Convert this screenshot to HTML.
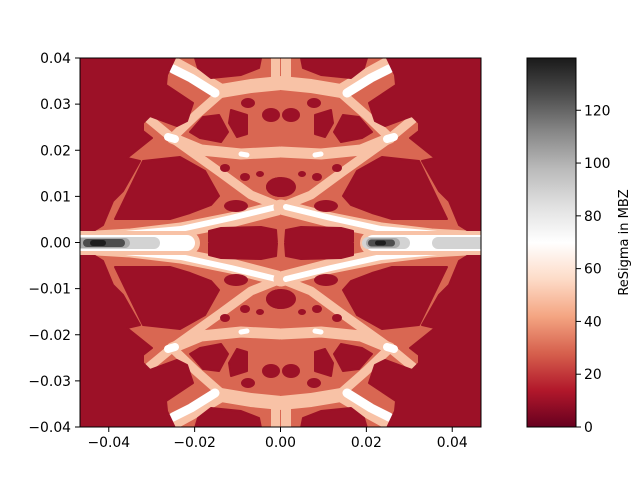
<!DOCTYPE html>
<html><head><meta charset="utf-8"><style>
html,body{margin:0;padding:0;background:#fff}
svg{display:block;font-family:"DejaVu Sans","Liberation Sans",sans-serif}
</style></head><body>
<svg id="chart" width="640" height="480" viewBox="0 0 640 480" xmlns="http://www.w3.org/2000/svg">
<defs>
<clipPath id="plotclip"><rect x="80" y="58" width="401" height="369"/></clipPath>
<linearGradient id="cbgrad" x1="0" y1="1" x2="0" y2="0">
<stop offset="0" stop-color="#67001f"/><stop offset="0.1" stop-color="#b2182b"/><stop offset="0.2" stop-color="#d6604d"/><stop offset="0.3" stop-color="#f4a582"/><stop offset="0.4" stop-color="#fddbc7"/><stop offset="0.5" stop-color="#ffffff"/><stop offset="0.6" stop-color="#e0e0e0"/><stop offset="0.7" stop-color="#bababa"/><stop offset="0.8" stop-color="#878787"/><stop offset="0.9" stop-color="#4d4d4d"/><stop offset="1" stop-color="#1a1a1a"/>
</linearGradient>
</defs>
<g id="plot" clip-path="url(#plotclip)"></g>
<rect x="80" y="58" width="401" height="369" fill="none" stroke="#000" stroke-width="1"/>
<g id="axes"></g>
<rect x="527" y="58" width="49" height="369" fill="url(#cbgrad)" stroke="#000" stroke-width="1"/>
<text x="0" y="0" font-size="13" transform="translate(628,242.5) rotate(-90)" text-anchor="middle">ReSigma in MBZ</text>
</svg>
<script>
const xTicks=[-0.04,-0.02,0.00,0.02,0.04];
const yTicks=[0.04,0.03,0.02,0.01,0.00,-0.01,-0.02,-0.03,-0.04];
const cbTicks=[0,20,40,60,80,100,120];
const xDomain=[-0.0467,0.0467], yDomain=[-0.04,0.04], cbDomain=[0,139.8];
const outerLow=[[-201,-185],[-106,-185],[-114,-168],[-115,-158],[-88,-140],[-94,-122],[-104,-117],[-131,-127],[-138,-120],[-138,-112],[-129,-105],[-139,-97],[-154,-85],[-141,-82],[-158,-52],[-168,-42],[-178,-18],[-194,-8],[-201,-7]];
const topLow=[[-86,-185],[-20,-185],[-22,-175],[-40,-168],[-70,-165],[-83,-175]];
const holeA=[[-166,-24],[-138,-82],[-101,-86],[-76,-72],[-62,-47],[-70,-38],[-91,-30],[-111,-24]];
const holeB=[[-91,-111],[-78,-126],[-62,-128],[-53,-111],[-60,-101],[-81,-105]];
const holeC=[[-50,-133],[-34,-128],[-34,-109],[-44,-106],[-52,-120]];
const holeCentre=[[-72,-12],[-60,-15],[-20,-16],[-5,-13],[-4,0],[-72,0]];
const smallHoles=[[-33,-140,7,5],[-10,-128,9,7],[-56,-75,5,4],[-36,-66,5,4],[-21,-69,4,3],[-45,-37,12,6],[0,-56,15,10]];
const peachLines=[
 [[-112,-182],[-90,-170],[-60,-152],[-30,-157],[0,-160]],
 [[-60,-150],[-85,-128],[-109,-105]],
 [[-132,-124],[-109,-105],[-60,-70],[-30,-48],[0,-36]],
 [[-109,-105],[-80,-93],[-40,-89],[0,-91]],
 [[-201,-4],[-150,-7],[-100,-13],[-50,-23],[0,-36]],
 [[-5,-185],[-5,-160]]];
const peachW=[14,9,9,11,15,10];
const whiteLines=[[[-108,-174],[-90,-165],[-66,-150]],[[-190,-6],[-100,-14],[-50,-25],[-5,-36]],[[-113,-106],[-106,-104]],[[-40,-89],[-34,-88]]];
const whiteW=[9,6,8,5];
const C={dark:"#9c1127",salmon:"#d96752",peach:"#f8c2a6",white:"#ffffff",lg:"#d3d3d3",g:"#a9a9a9",dg:"#4d4d4d",dd:"#1e1e1e"};
const NS="http://www.w3.org/2000/svg";
const cx=281,cy=243;
function sx(v){return 80+(v-xDomain[0])/(xDomain[1]-xDomain[0])*401;}
function sy(v){return 427-(v-yDomain[0])/(yDomain[1]-yDomain[0])*369;}
function sc(v){return 427-(v-cbDomain[0])/(cbDomain[1]-cbDomain[0])*369;}
function mk(tag,attrs,parent){const e=document.createElementNS(NS,tag);for(const k in attrs)e.setAttribute(k,attrs[k]);parent.appendChild(e);return e;}
const plot=document.getElementById('plot');
const bg=mk('rect',{x:80,y:58,width:401,height:369,fill:C.dark},plot);


const pts=a=>a.map(p=>p[0]+','+p[1]).join(' ');
[[1,1],[-1,1],[1,-1],[-1,-1]].forEach(([mx,my])=>{
 const g=mk('g',{transform:`translate(${cx},${cy}) scale(${mx},${my})`},plot);
 
 
 const base=mk('rect',{x:-202,y:-186,width:203,height:187,fill:C.salmon},g);
 
 
 peachLines.forEach((l,i)=>{const e=mk('polyline',{points:pts(l),fill:'none',stroke:C.peach,'stroke-width':peachW[i],'stroke-linejoin':'round','stroke-linecap':'round'},g);
  
  });
 whiteLines.forEach((l,i)=>{const e=mk('polyline',{points:pts(l),fill:'none',stroke:C.white,'stroke-width':whiteW[i],'stroke-linejoin':'round','stroke-linecap':'round'},g);
  
  });
 [holeA,holeB,holeC,holeCentre,topLow,outerLow].forEach(h=>{const e=mk('polygon',{points:pts(h),fill:C.dark,stroke:C.dark,'stroke-width':2,'stroke-linejoin':'round'},g);
  
  });
 smallHoles.forEach(s=>{const e=mk('ellipse',{cx:s[0],cy:s[1],rx:s[2],ry:s[3],fill:C.dark},g);
  
  });
});
const ridge=[
 [60,200,12,C.peach],[60,195,8,C.white],[60,160,6,C.lg],[60,130,5,C.g],[83,125,4,C.dg],[90,106,3,C.dd],
 [360,500,12,C.peach],[365,500,8,C.white],[362,410,6,C.lg],[432,500,6,C.lg],[366,400,5,C.g],[368,395,3.5,C.dg],[375,386,2.5,C.dd]];
ridge.forEach(r=>{const e=mk('rect',{x:r[0],y:cy-r[2],width:r[1]-r[0],height:2*r[2],rx:r[2],fill:r[3]},plot);
 
 });
const axes=document.getElementById('axes');
xTicks.forEach(v=>{const x=sx(v);
 const t=mk('line',{x1:x,x2:x,y1:427,y2:432,stroke:'#000'},axes);
 
 
 const l=mk('text',{x:x,y:447,'font-size':13.9,'text-anchor':'middle'},axes);l.textContent=v.toFixed(2).replace('-','\u2212');
 
 });
yTicks.forEach(v=>{const y=sy(v);
 const t=mk('line',{x1:75,x2:80,y1:y,y2:y,stroke:'#000'},axes);
 
 
 const l=mk('text',{x:71,y:y+5,'font-size':13.9,'text-anchor':'end'},axes);l.textContent=(Math.abs(v)<1e-9?0:v).toFixed(2).replace('-','\u2212');
 
 });
cbTicks.forEach(v=>{const y=sc(v);
 const t=mk('line',{x1:576,x2:581,y1:y,y2:y,stroke:'#000'},axes);
 
 
 const l=mk('text',{x:584,y:y+5,'font-size':13.9},axes);l.textContent=v;
 
 });
</script>
</body></html>
